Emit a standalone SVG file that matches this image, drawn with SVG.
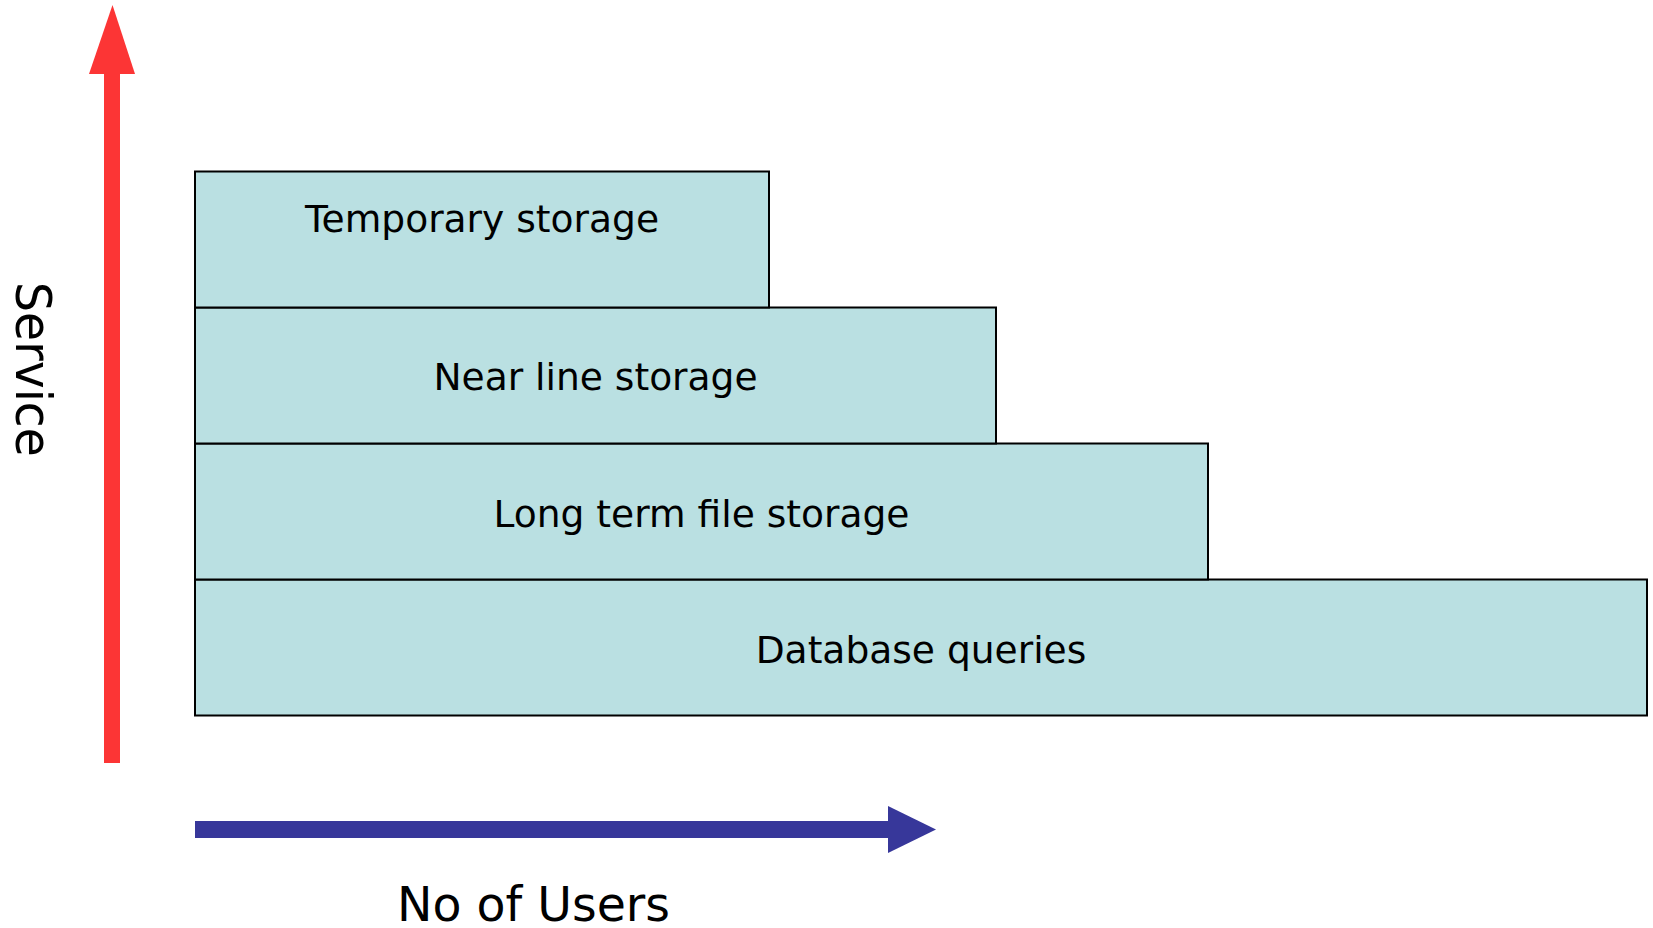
<svg xmlns="http://www.w3.org/2000/svg" width="1653" height="928" viewBox="0 0 1653 928">
  <style>
    .tier { fill: #bae0e2; stroke: #000; stroke-width: 2; }
    .label { font-family: "DejaVu Sans", Verdana, sans-serif; font-size: 37.6px; fill: #000; text-anchor: middle; }
    .axis-label { font-family: "DejaVu Sans", Verdana, sans-serif; fill: #000; text-anchor: middle; }
  </style>

  <rect width="1653" height="928" fill="#fff"/>

  <!-- Axes -->
  <g id="axes">
    <!-- vertical service axis -->
    <g id="service-axis">
      <rect x="104" y="72" width="16" height="691" fill="#fc3535"/>
      <polygon points="112.5,5 135,74 89,74" fill="#fc3535"/>
      <text class="axis-label" font-size="50" textLength="175" lengthAdjust="spacingAndGlyphs" transform="translate(16 369.5) rotate(90)">Service</text>
    </g>
    <!-- horizontal users axis -->
    <g id="users-axis">
      <rect x="195" y="821" width="695" height="17" fill="#37379a"/>
      <polygon points="888,806 936,829.5 888,853" fill="#37379a"/>
      <text class="axis-label" font-size="48" textLength="273" lengthAdjust="spacingAndGlyphs" x="533.5" y="921">No of Users</text>
    </g>
  </g>

  <!-- Storage tiers, widest at the bottom -->
  <g id="tier-database">
    <rect class="tier" x="195" y="579.5" width="1452" height="136"/>
    <text class="label" x="921" y="662.5">Database queries</text>
  </g>
  <g id="tier-longterm">
    <rect class="tier" x="195" y="443.5" width="1013" height="136"/>
    <text class="label" x="701.5" y="526.5">Long term file storage</text>
  </g>
  <g id="tier-nearline">
    <rect class="tier" x="195" y="307.5" width="801" height="136"/>
    <text class="label" x="595.5" y="390">Near line storage</text>
  </g>
  <g id="tier-temporary">
    <rect class="tier" x="195" y="171.5" width="574" height="136"/>
    <text class="label" x="482" y="231.5">Temporary storage</text>
  </g>
</svg>
